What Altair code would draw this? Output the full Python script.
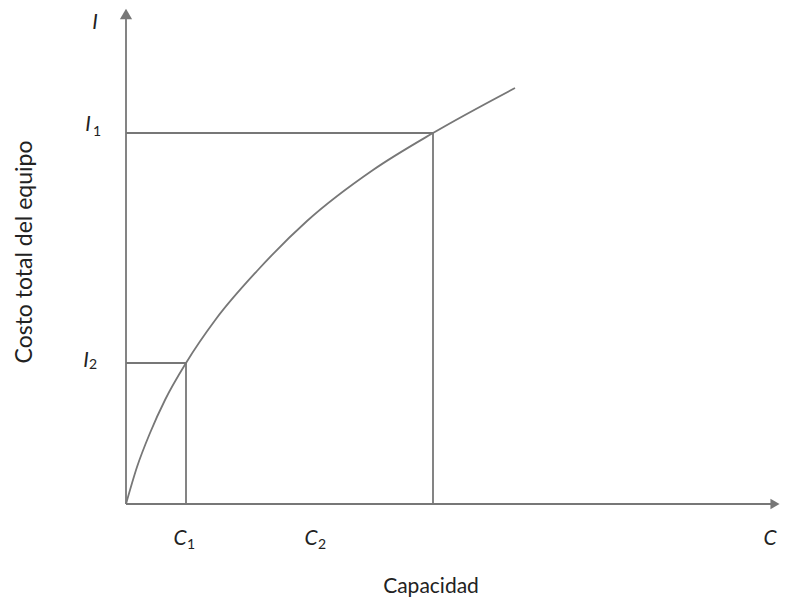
import altair as alt
import pandas as pd

# Curve (capacity vs total equipment cost), in arbitrary units
cap = [0, 11, 24, 39, 60, 90, 131, 181, 247, 307, 389]
cost = [0, 37, 71, 104, 141, 185, 233, 283, 334, 371, 416]

# Guide values
c_marks = [60, 307]       # C1 position, line under I1
i_marks = [141, 371]      # I2, I1

# Axis extents
x_max = 654
y_max = 499

FONT = "Lato"
GRAY = "#777777"
TXT = "#222222"

xs = alt.Scale(domain=[0, x_max], nice=False, zero=False)
ys = alt.Scale(domain=[0, 496], nice=False, zero=False)

def enc(ch):
    return ch.encode(x=alt.X("x:Q", scale=xs, axis=None), y=alt.Y("y:Q", scale=ys, axis=None))

curve_df = pd.DataFrame({"x": cap, "y": cost})
curve = enc(alt.Chart(curve_df).mark_line(color=GRAY, strokeWidth=1.8, interpolate="monotone", clip=False))

# axes lines
axes_df = pd.DataFrame({"x": [0, 0], "y": [0, 0], "x2": [x_max - 4, 0], "y2": [0, y_max - 8]})
axes = alt.Chart(axes_df).mark_rule(color=GRAY, strokeWidth=1.8, clip=False).encode(
    x=alt.X("x:Q", scale=xs, axis=None), y=alt.Y("y:Q", scale=ys, axis=None),
    x2="x2:Q", y2="y2:Q",
)

# guide lines
guide_df = pd.DataFrame({
    "x": [0, c_marks[0], 0, c_marks[1]],
    "y": [i_marks[0], 0, i_marks[1], 0],
    "x2": [c_marks[0], c_marks[0], c_marks[1], c_marks[1]],
    "y2": [i_marks[0], i_marks[0], i_marks[1], i_marks[1]],
})
guides = alt.Chart(guide_df).mark_rule(color=GRAY, strokeWidth=1.8, clip=False).encode(
    x=alt.X("x:Q", scale=xs, axis=None), y=alt.Y("y:Q", scale=ys, axis=None),
    x2="x2:Q", y2="y2:Q",
)

# arrowheads
arrow_up = enc(alt.Chart(pd.DataFrame({"x": [0], "y": [y_max - 9]})).mark_point(
    shape="triangle-up", filled=True, color=GRAY, opacity=1, size=150, clip=False))
arrow_right = enc(alt.Chart(pd.DataFrame({"x": [x_max - 5], "y": [0]})).mark_point(
    shape="triangle-right", filled=True, color=GRAY, opacity=1, size=110, clip=False))

# letter labels
main_labels = ["I", "I", "I", "C", "C", "C"]
main_x = [-31, -38, -40, 54, 185, 644]
main_y = [481, 379, 143, -35, -35, -35]
sub_labels = ["1", "2", "1", "2"]
sub_x = [-29, -33, 65, 196]
sub_y = [372, 139, -41, -41]

letters = alt.Chart(pd.DataFrame({"t": main_labels, "x": main_x, "y": main_y})).mark_text(
    font=FONT, fontSize=21, fontStyle="italic", color=TXT, align="center", baseline="middle", clip=False
).encode(x=alt.X("x:Q", scale=xs, axis=None), y=alt.Y("y:Q", scale=ys, axis=None), text="t:N")
subs = alt.Chart(pd.DataFrame({"t": sub_labels, "x": sub_x, "y": sub_y})).mark_text(
    font=FONT, fontSize=14, color=TXT, align="center", baseline="middle", clip=False
).encode(x=alt.X("x:Q", scale=xs, axis=None), y=alt.Y("y:Q", scale=ys, axis=None), text="t:N")

xtitle = alt.Chart(pd.DataFrame({"t": ["Capacidad"], "x": [305], "y": [-83]})).mark_text(
    font=FONT, fontSize=21, color=TXT, align="center", baseline="middle", clip=False
).encode(x=alt.X("x:Q", scale=xs, axis=None), y=alt.Y("y:Q", scale=ys, axis=None), text="t:N")
ytitle = alt.Chart(pd.DataFrame({"t": ["Costo total del equipo"], "x": [-101], "y": [252]})).mark_text(
    font=FONT, fontSize=23, color=TXT, align="center", baseline="middle", angle=270, clip=False
).encode(x=alt.X("x:Q", scale=xs, axis=None), y=alt.Y("y:Q", scale=ys, axis=None), text="t:N")

chart = alt.layer(guides, axes, curve, arrow_up, arrow_right, letters, subs, xtitle, ytitle).properties(
    width=x_max, height=496,
    autosize=alt.AutoSizeParams(type="none"),
    padding={"left": 118, "top": 0, "right": 0, "bottom": 96},
).configure_view(stroke=None)

chart.save("out.html", embed_options={"renderer": "svg", "actions": False})
